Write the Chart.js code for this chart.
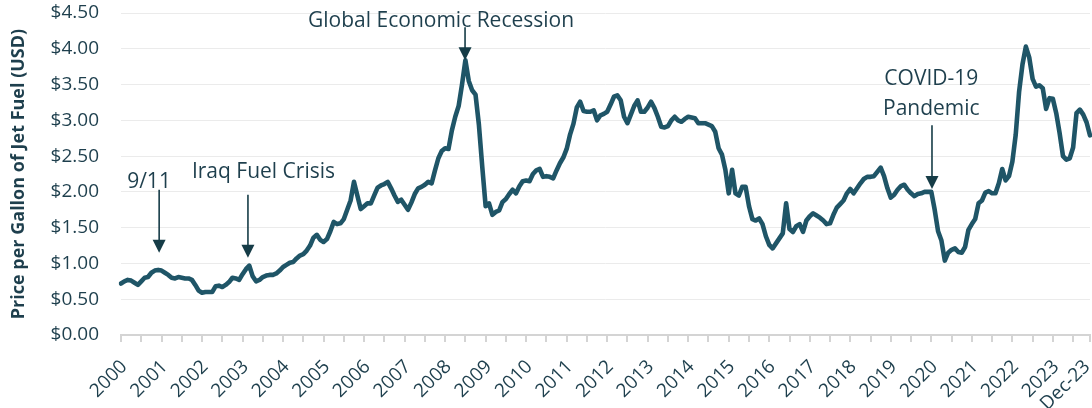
<!DOCTYPE html>
<html>
<head>
<meta charset="utf-8">
<script src="https://cdn.jsdelivr.net/npm/chart.js@4.4.0/dist/chart.umd.min.js"></script>
<style>
  html, body { margin: 0; padding: 0; background: #fff; }
  #wrap { width: 1092px; height: 408px; position: relative; }
</style>
</head>
<body>
<div id="wrap"><canvas id="fuelChart"></canvas></div>
<script>
// monthly jet fuel price, USD per gallon (Jan..Dec)
const p2000 = [0.72, 0.75, 0.77, 0.76, 0.73, 0.70, 0.75, 0.80, 0.81, 0.87, 0.90, 0.91];
const p2001 = [0.90, 0.87, 0.84, 0.80, 0.79, 0.81, 0.80, 0.79, 0.79, 0.77, 0.70, 0.62];
const p2002 = [0.59, 0.60, 0.60, 0.60, 0.68, 0.69, 0.67, 0.70, 0.74, 0.80, 0.79, 0.77];
const p2003 = [0.85, 0.92, 0.97, 0.82, 0.75, 0.77, 0.81, 0.83, 0.84, 0.84, 0.86, 0.90];
const p2004 = [0.95, 0.98, 1.01, 1.02, 1.07, 1.11, 1.13, 1.18, 1.25, 1.36, 1.40, 1.33];
const p2005 = [1.30, 1.34, 1.45, 1.58, 1.55, 1.56, 1.62, 1.75, 1.88, 2.14, 1.95, 1.76];
const p2006 = [1.80, 1.84, 1.84, 1.95, 2.06, 2.09, 2.11, 2.14, 2.05, 1.95, 1.86, 1.89];
const p2007 = [1.82, 1.75, 1.85, 1.97, 2.05, 2.07, 2.10, 2.14, 2.12, 2.30, 2.47, 2.57];
const p2008 = [2.61, 2.60, 2.86, 3.05, 3.20, 3.50, 3.84, 3.55, 3.42, 3.36, 2.94, 2.35];
const p2009 = [1.80, 1.84, 1.68, 1.72, 1.74, 1.86, 1.90, 1.97, 2.03, 1.98, 2.08, 2.15];
const p2010 = [2.16, 2.15, 2.25, 2.30, 2.32, 2.21, 2.22, 2.21, 2.19, 2.30, 2.40, 2.48];
const p2011 = [2.60, 2.80, 2.95, 3.18, 3.26, 3.13, 3.12, 3.12, 3.14, 3.00, 3.07, 3.09];
const p2012 = [3.12, 3.22, 3.33, 3.35, 3.28, 3.05, 2.96, 3.08, 3.20, 3.28, 3.12, 3.12];
const p2013 = [3.18, 3.26, 3.17, 3.05, 2.91, 2.90, 2.92, 3.00, 3.05, 3.00, 2.98, 3.02];
const p2014 = [3.05, 3.04, 3.03, 2.96, 2.96, 2.96, 2.94, 2.92, 2.84, 2.61, 2.52, 2.31];
const p2015 = [1.98, 2.31, 1.98, 1.95, 2.07, 2.07, 1.80, 1.62, 1.60, 1.63, 1.55, 1.38];
const p2016 = [1.26, 1.21, 1.28, 1.35, 1.42, 1.84, 1.48, 1.44, 1.52, 1.55, 1.44, 1.60];
const p2017 = [1.66, 1.70, 1.67, 1.64, 1.60, 1.55, 1.56, 1.68, 1.78, 1.83, 1.88, 1.98];
const p2018 = [2.04, 1.98, 2.05, 2.12, 2.18, 2.21, 2.21, 2.22, 2.28, 2.34, 2.22, 2.05];
const p2019 = [1.92, 1.96, 2.03, 2.08, 2.10, 2.03, 1.98, 1.94, 1.97, 1.98, 2.00, 2.00];
const p2020 = [2.00, 1.75, 1.45, 1.32, 1.04, 1.15, 1.19, 1.21, 1.16, 1.15, 1.23, 1.47];
const p2021 = [1.55, 1.62, 1.84, 1.88, 1.99, 2.01, 1.98, 1.98, 2.12, 2.32, 2.16, 2.22];
const p2022 = [2.42, 2.80, 3.40, 3.78, 4.03, 3.88, 3.58, 3.47, 3.49, 3.45, 3.16, 3.31];
const p2023 = [3.30, 3.10, 2.82, 2.50, 2.45, 2.47, 2.62, 3.10, 3.15, 3.08, 2.97, 2.79];

const years = ['2000', '2001', '2002', '2003', '2004', '2005', '2006', '2007',
  '2008', '2009', '2010', '2011', '2012', '2013', '2014', '2015',
  '2016', '2017', '2018', '2019', '2020', '2021', '2022', '2023'];
const monthNames = ['Jan', 'Feb', 'Mar', 'Apr', 'May', 'Jun', 'Jul', 'Aug', 'Sep', 'Oct', 'Nov', 'Dec'];
const lastLabel = 'Dec-23';
const yTicks = [0, 0.5, 1, 1.5, 2, 2.5, 3, 3.5, 4, 4.5];

// events: month index of the arrow, where it points (value), where it starts, text
const events = [
  { text: ['9/11'], month: 11.3, tip: 1.15, tail: 2.03, textMonth: 8.3, textValue: 2.05 },
  { text: ['Iraq Fuel Crisis'], month: 37.6, tip: 1.08, tail: 1.96, textMonth: 42.2, textValue: 2.19 },
  { text: ['Global Economic Recession'], month: 101.9, tip: 3.84, tail: 4.30, textMonth: 94.8, textValue: 4.30 },
  { text: ['COVID-19', 'Pandemic'], month: 240.2, tip: 2.04, tail: 2.93, textMonth: 240, textValue: 3.49 }
];

const prices = [].concat(p2000, p2001, p2002, p2003, p2004, p2005, p2006, p2007,
  p2008, p2009, p2010, p2011, p2012, p2013, p2014, p2015,
  p2016, p2017, p2018, p2019, p2020, p2021, p2022, p2023);
const months = [];
years.forEach(y => monthNames.forEach(m => months.push(m + '-' + y)));

const textColor = '#1e3f4d';
const arrowColor = '#163c47';
const axisFont = '19px "Open Sans"';

const xLabel = i => {
  if (i === months.length - 1) return lastLabel;
  if (i % 12 === 0) return years[i / 12];
  return null;
};

// year labels under the x axis, turned 45 degrees like Excel does
const xLabelPlugin = {
  id: 'xLabels',
  afterDraw(chart) {
    const ctx = chart.ctx;
    const xs = chart.scales.x;
    ctx.save();
    ctx.font = axisFont;
    ctx.fillStyle = textColor;
    ctx.textAlign = 'right';
    ctx.textBaseline = 'alphabetic';
    months.forEach((m, i) => {
      const label = xLabel(i);
      if (label === null) return;
      const x = Math.min(xs.getPixelForValue(i) + 7, chart.width - 1);
      ctx.save();
      ctx.translate(x, xs.top + 32.5);
      ctx.rotate(-Math.PI / 4);
      ctx.fillText(label, 0, 0);
      ctx.restore();
    });
    ctx.restore();
  }
};

// arrows and event labels
const eventPlugin = {
  id: 'events',
  afterDatasetsDraw(chart) {
    const ctx = chart.ctx;
    const xs = chart.scales.x, ys = chart.scales.y;
    ctx.save();
    ctx.font = '21px "Open Sans"';
    ctx.fillStyle = textColor;
    ctx.textAlign = 'center';
    ctx.textBaseline = 'alphabetic';
    events.forEach(ev => {
      const tx = xs.getPixelForValue(ev.textMonth);
      const ty = ys.getPixelForValue(ev.textValue);
      ev.text.forEach((line, k) => ctx.fillText(line, tx, ty + k * 30));

      const x = xs.getPixelForValue(ev.month);
      const tip = ys.getPixelForValue(ev.tip);
      const tail = ys.getPixelForValue(ev.tail);
      ctx.strokeStyle = arrowColor;
      ctx.lineWidth = 1.6;
      ctx.beginPath();
      ctx.moveTo(x, tail);
      ctx.lineTo(x, tip - 12);
      ctx.stroke();
      ctx.fillStyle = arrowColor;
      ctx.beginPath();
      ctx.moveTo(x - 6.5, tip - 13);
      ctx.lineTo(x + 6.5, tip - 13);
      ctx.lineTo(x, tip);
      ctx.closePath();
      ctx.fill();
      ctx.fillStyle = textColor;
    });
    ctx.restore();
  }
};

const tickMark = i => i % 6 === 0 || i === months.length - 1;

new Chart(document.getElementById('fuelChart'), {
  type: 'line',
  data: {
    labels: months,
    datasets: [{
      data: prices,
      borderColor: '#1f5567',
      borderWidth: 4.6,
      pointRadius: 0,
      tension: 0,
      borderJoinStyle: 'round',
      borderCapStyle: 'round'
    }]
  },
  options: {
    responsive: true,
    maintainAspectRatio: false,
    animation: false,
    layout: { padding: { top: 13, right: 2, left: 0, bottom: 0 } },
    plugins: { legend: { display: false }, tooltip: { enabled: false } },
    scales: {
      x: {
        offset: false,
        grid: {
          drawOnChartArea: false,
          drawTicks: true,
          tickLength: 7,
          lineWidth: 2,
          color: ctx => tickMark(ctx.index) ? '#d4d4d4' : 'rgba(0,0,0,0)'
        },
        border: { display: true, color: '#d4d4d4', width: 2 },
        ticks: { display: false, autoSkip: false, maxRotation: 0 },
        afterFit: s => { s.height = 73; s.paddingLeft = 0; s.paddingRight = 0; }
      },
      y: {
        min: 0,
        max: 4.5,
        afterBuildTicks: s => { s.ticks = yTicks.map(v => ({ value: v })); },
        grid: { color: '#ebebeb', lineWidth: 1, drawTicks: false },
        border: { display: false },
        ticks: {
          padding: 22,
          color: textColor,
          font: { family: '"Open Sans"', size: 19 },
          callback: v => '$' + v.toFixed(2)
        },
        title: {
          display: true,
          text: 'Price per Gallon of Jet Fuel (USD)',
          color: textColor,
          font: { family: '"Open Sans"', size: 18, weight: 'bold' },
          padding: { top: 8, bottom: 0 }
        },
        afterFit: s => { s.width = 121; s.paddingTop = 0; s.paddingBottom = 0; }
      }
    }
  },
  plugins: [eventPlugin, xLabelPlugin]
});
</script>
</body>
</html>
